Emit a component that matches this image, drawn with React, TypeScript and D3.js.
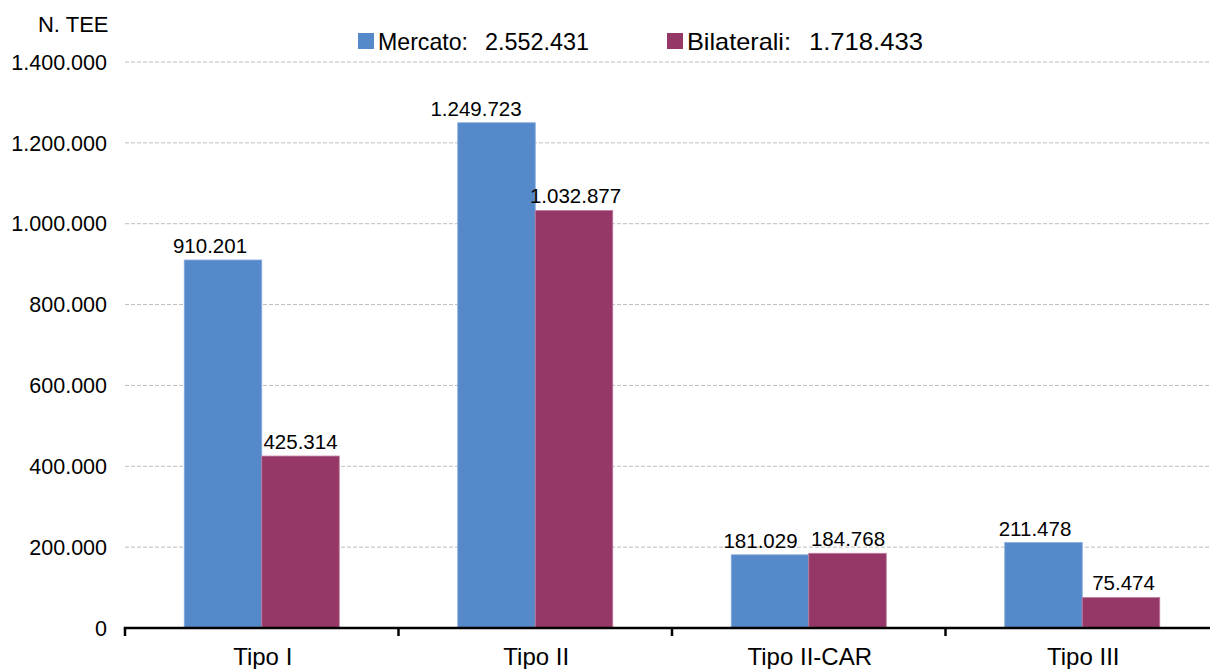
import React from "react";
import * as d3 from "d3";

// Titoli di efficienza energetica (TEE) per tipologia
const categories = ["Tipo I", "Tipo II", "Tipo II-CAR", "Tipo III"];
const seriesNames = ["Mercato", "Bilaterali"];
const seriesTotals = ["2.552.431", "1.718.433"];
const mercato = [910201, 1249723, 181029, 211478];
const bilaterali = [425314, 1032877, 184768, 75474];
const yTicks = [0, 200000, 400000, 600000, 800000, 1000000, 1200000, 1400000];

const colors = ["#5589c9", "#953867"];
const edgeColors = ["#86aadb", "#c07a9c"];

// horizontal nudges of the value labels (px), per series and category
const labelShift = [
  [-13, -20.5, -9.5, -8.5],
  [0, 1.5, 0.5, 2.5],
];

const W = 1210;
const H = 669;
const left = 125;
const bandW = 273.5;
const yBottom = 628;
const yTop = 62;

const fmt = (v: number) => {
  const s = Math.round(v).toString();
  return s.replace(/\B(?=(\d{3})+(?!\d))/g, ".");
};

export default function App() {
  const font = "'Liberation Sans', Arial, sans-serif";
  const x = d3
    .scaleBand<string>()
    .domain(categories)
    .range([left, left + bandW * categories.length])
    .paddingInner(0)
    .paddingOuter(0);
  // each group of two bars spans 155px centred in its band
  const groupW = 155;
  const barW = groupW / 2;
  const groupOffset = (x.bandwidth() - groupW) / 2;
  const y = d3.scaleLinear().domain([0, 1400000]).range([yBottom, yTop]);
  const series = [mercato, bilaterali];

  const legendSquare = [358, 667];
  const legendNameW = [90, 104];
  const legendTotalX = [485, 809];
  const legendTotalW = [104, 114];

  return (
    <svg
      width={W}
      height={H}
      style={{ position: "absolute", left: 0, top: 0, background: "#fff" }}
      fontFamily={font}
    >
      <rect x={0} y={0} width={W} height={H} fill="#fff" />
      {/* grid */}
      {yTicks
        .filter((t) => t > 0)
        .map((t) => (
          <line
            key={"g" + t}
            x1={left}
            x2={W}
            y1={y(t)}
            y2={y(t)}
            stroke="#bdbdbd"
            strokeWidth={1}
            strokeDasharray="4,2"
          />
        ))}
      {/* y tick labels */}
      {yTicks.map((t) => (
        <text
          key={"t" + t}
          x={107}
          y={y(t)}
          dy="0.36em"
          textAnchor="end"
          fontSize={21.5}
          fill="#000"
        >
          {fmt(t)}
        </text>
      ))}
      <text x={108.5} y={32} textAnchor="end" fontSize={22} fill="#000">
        N. TEE
      </text>
      {/* bars */}
      {categories.map((c, i) => (
        <g key={c}>
          {series.map((s, k) => {
            const bx = (x(c) as number) + groupOffset + k * barW;
            return (
              <g key={k}>
                <rect
                  x={bx}
                  y={y(s[i])}
                  width={barW}
                  height={yBottom - y(s[i])}
                  fill={colors[k]}
                  stroke={edgeColors[k]}
                  strokeWidth={0.8}
                />
                <text
                  x={bx + barW / 2 + labelShift[k][i]}
                  y={y(s[i]) - 7}
                  textAnchor="middle"
                  fontSize={20.5}
                  fill="#000"
                >
                  {fmt(s[i])}
                </text>
              </g>
            );
          })}
          <text
            x={(x(c) as number) + x.bandwidth() / 2 + 1}
            y={665}
            textAnchor="middle"
            fontSize={24}
            fill="#000"
          >
            {c}
          </text>
        </g>
      ))}
      {/* x axis */}
      <line x1={left - 1.25} x2={W} y1={yBottom} y2={yBottom} stroke="#000" strokeWidth={2.5} />
      {d3.range(categories.length + 1).map((j) => (
        <line
          key={"k" + j}
          x1={left + j * bandW}
          x2={left + j * bandW}
          y1={yBottom}
          y2={yBottom + 8}
          stroke="#000"
          strokeWidth={2.5}
        />
      ))}
      {/* legend */}
      {seriesNames.map((n, k) => {
        const lx = legendSquare[k];
        return (
          <g key={n}>
            <rect x={lx} y={33} width={16} height={16} fill={colors[k]} />
            <text
              x={lx + 20}
              y={50}
              fontSize={24}
              fill="#000"
              textLength={legendNameW[k]}
              lengthAdjust="spacingAndGlyphs"
            >
              {`${n}:`}
            </text>
            <text
              x={legendTotalX[k]}
              y={50}
              fontSize={24}
              fill="#000"
              textLength={legendTotalW[k]}
              lengthAdjust="spacingAndGlyphs"
            >
              {seriesTotals[k]}
            </text>
          </g>
        );
      })}
    </svg>
  );
}
